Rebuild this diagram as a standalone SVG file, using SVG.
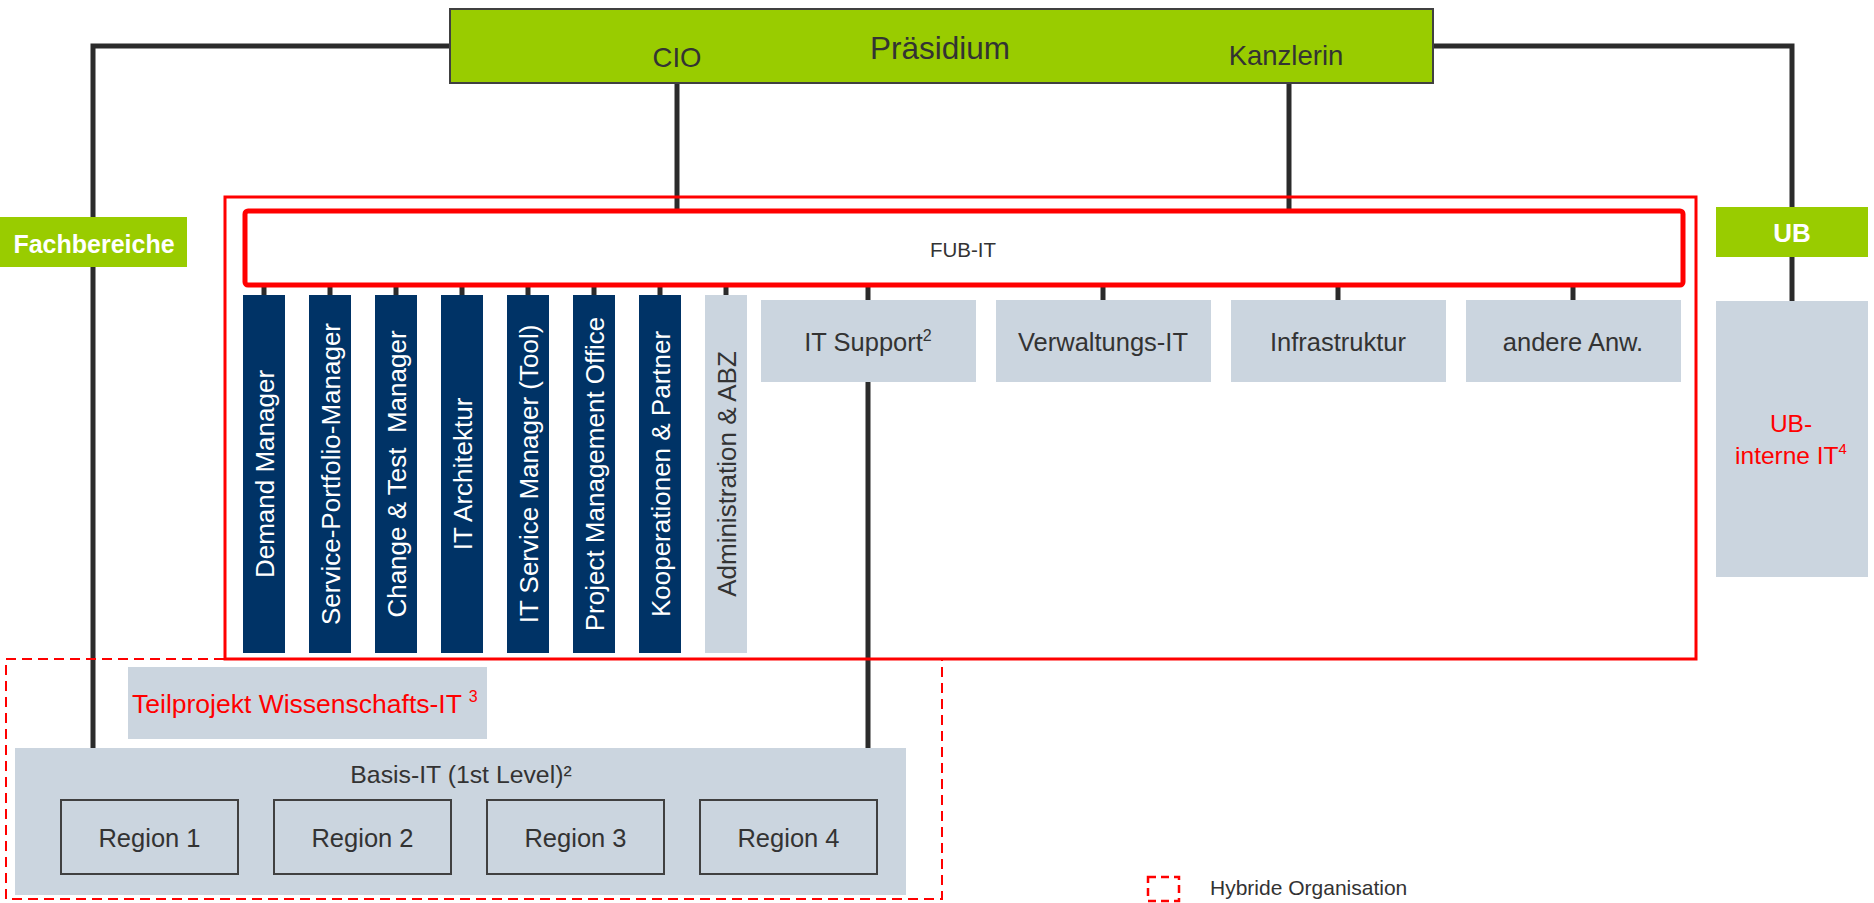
<svg xmlns="http://www.w3.org/2000/svg" width="1874" height="903" viewBox="0 0 1874 903">
  <style>
    text { font-family: "Liberation Sans", Arial, sans-serif; }
    .green { fill: #99cc00; }
    .gray { fill: #cbd5df; }
    .navy { fill: #003366; }
    .dark { fill: #333333; }
    .white { fill: #ffffff; }
    .red { fill: #ff0000; }
    .conn { stroke: #2b2b2b; stroke-width: 5; fill: none; }
    .stub { stroke: #2b2b2b; stroke-width: 5; fill: none; }
    .vt { font-size: 26px; text-anchor: middle; }
    .bt { font-size: 25.5px; text-anchor: middle; fill: #333333; }
  </style>

  <!-- connectors -->
  <g id="connectors">
    <polyline class="conn" points="450,46 93,46 93,217"/>
    <line class="conn" x1="93" y1="267" x2="93" y2="748"/>
    <polyline class="conn" points="1433,46 1792,46 1792,207"/>
    <line class="conn" x1="1792" y1="257" x2="1792" y2="301"/>
    <line class="conn" x1="677" y1="84" x2="677" y2="211"/>
    <line class="conn" x1="1289" y1="84" x2="1289" y2="211"/>
    <line class="stub" x1="264" y1="285" x2="264" y2="295"/>
    <line class="stub" x1="330" y1="285" x2="330" y2="295"/>
    <line class="stub" x1="396" y1="285" x2="396" y2="295"/>
    <line class="stub" x1="462" y1="285" x2="462" y2="295"/>
    <line class="stub" x1="528" y1="285" x2="528" y2="295"/>
    <line class="stub" x1="594" y1="285" x2="594" y2="295"/>
    <line class="stub" x1="660" y1="285" x2="660" y2="295"/>
    <line class="stub" x1="726" y1="285" x2="726" y2="295"/>
    <line class="stub" x1="868" y1="285" x2="868" y2="300"/>
    <line class="stub" x1="1103" y1="285" x2="1103" y2="300"/>
    <line class="stub" x1="1338" y1="285" x2="1338" y2="300"/>
    <line class="stub" x1="1573" y1="285" x2="1573" y2="300"/>
    <line class="conn" x1="868" y1="382" x2="868" y2="748"/>
  </g>

  <!-- Präsidium -->
  <g id="praesidium">
    <rect x="450" y="9" width="983" height="74" class="green" stroke="#404040" stroke-width="2"/>
    <text x="940" y="59" font-size="31.5" text-anchor="middle" class="dark">Präsidium</text>
    <text x="677" y="67" font-size="27.5" text-anchor="middle" class="dark">CIO</text>
    <text x="1286" y="65" font-size="27.5" text-anchor="middle" class="dark">Kanzlerin</text>
  </g>

  <!-- Fachbereiche -->
  <g id="fachbereiche">
    <rect x="0" y="217" width="187" height="50" class="green"/>
    <text x="94" y="253" font-size="25" font-weight="bold" text-anchor="middle" class="white">Fachbereiche</text>
  </g>

  <!-- UB -->
  <g id="ub">
    <rect x="1716" y="207" width="152" height="50" class="green"/>
    <text x="1792" y="242" font-size="26" font-weight="bold" text-anchor="middle" class="white">UB</text>
  </g>

  <g id="ub-interne-it">
    <rect x="1716" y="301" width="152" height="276" class="gray"/>
    <text x="1791" y="432" font-size="24.5" text-anchor="middle" class="red">UB-</text>
    <text x="1791" y="464" font-size="24.5" text-anchor="middle" class="red">interne IT<tspan font-size="15" dy="-10">4</tspan></text>
  </g>

  <!-- outer red frame -->
  <g id="fub-frame">
    <rect x="225" y="197" width="1471" height="462" fill="none" stroke="#ff0000" stroke-width="3"/>
  </g>

  <!-- FUB-IT -->
  <g id="fub-it">
    <rect x="245" y="211" width="1438" height="74" rx="3" fill="#ffffff" stroke="#ff0000" stroke-width="5"/>
    <text x="963" y="257" font-size="20.5" text-anchor="middle" class="dark">FUB-IT</text>
  </g>

  <!-- vertical columns -->
  <g id="demand-manager">
    <rect x="243" y="295" width="42" height="358" class="navy"/>
    <text class="vt white" transform="translate(273.5,474) rotate(-90)">Demand Manager</text>
  </g>
  <g id="service-portfolio-manager">
    <rect x="309" y="295" width="42" height="358" class="navy"/>
    <text class="vt white" transform="translate(339.5,474) rotate(-90)">Service-Portfolio-Manager</text>
  </g>
  <g id="change-test-manager">
    <rect x="375" y="295" width="42" height="358" class="navy"/>
    <text class="vt white" xml:space="preserve" transform="translate(405.5,474) rotate(-90)">Change &amp; Test  Manager</text>
  </g>
  <g id="it-architektur">
    <rect x="441" y="295" width="42" height="358" class="navy"/>
    <text class="vt white" transform="translate(471.5,474) rotate(-90)">IT Architektur</text>
  </g>
  <g id="it-service-manager">
    <rect x="507" y="295" width="42" height="358" class="navy"/>
    <text class="vt white" transform="translate(537.5,474) rotate(-90)">IT Service Manager (Tool)</text>
  </g>
  <g id="project-management-office">
    <rect x="573" y="295" width="42" height="358" class="navy"/>
    <text class="vt white" transform="translate(603.5,474) rotate(-90)">Project Management Office</text>
  </g>
  <g id="kooperationen-partner">
    <rect x="639" y="295" width="42" height="358" class="navy"/>
    <text class="vt white" transform="translate(669.5,474) rotate(-90)">Kooperationen &amp; Partner</text>
  </g>
  <g id="administration-abz">
    <rect x="705" y="295" width="42" height="358" class="gray"/>
    <text class="vt dark" transform="translate(735.5,474) rotate(-90)">Administration &amp; ABZ</text>
  </g>

  <!-- horizontal gray units -->
  <g id="it-support">
    <rect x="761" y="300" width="215" height="82" class="gray"/>
    <text x="868" y="351" class="bt">IT Support<tspan font-size="16" dy="-10">2</tspan></text>
  </g>
  <g id="verwaltungs-it">
    <rect x="996" y="300" width="215" height="82" class="gray"/>
    <text x="1103" y="351" class="bt">Verwaltungs-IT</text>
  </g>
  <g id="infrastruktur">
    <rect x="1231" y="300" width="215" height="82" class="gray"/>
    <text x="1338" y="351" class="bt">Infrastruktur</text>
  </g>
  <g id="andere-anw">
    <rect x="1466" y="300" width="215" height="82" class="gray"/>
    <text x="1573" y="351" class="bt">andere Anw.</text>
  </g>

  <!-- hybrid organisation -->
  <g id="hybride-bereich">
    <rect x="6" y="659" width="936" height="240" fill="none" stroke="#ff0000" stroke-width="2" stroke-dasharray="10 6"/>
  </g>

  <g id="teilprojekt">
    <rect x="128" y="667" width="359" height="72" class="gray"/>
    <text x="132" y="713" font-size="26.5" class="red">Teilprojekt Wissenschafts-IT <tspan font-size="16" dy="-11">3</tspan></text>
  </g>

  <g id="basis-it">
    <rect x="15" y="748" width="891" height="147" class="gray"/>
    <text x="461" y="783" font-size="24.8" text-anchor="middle" class="dark">Basis-IT (1st Level)²</text>
  </g>
  <g id="region-1">
    <rect x="61" y="800" width="177" height="74" fill="none" stroke="#404040" stroke-width="2"/>
    <text x="149.5" y="847" class="bt">Region 1</text>
  </g>
  <g id="region-2">
    <rect x="274" y="800" width="177" height="74" fill="none" stroke="#404040" stroke-width="2"/>
    <text x="362.5" y="847" class="bt">Region 2</text>
  </g>
  <g id="region-3">
    <rect x="487" y="800" width="177" height="74" fill="none" stroke="#404040" stroke-width="2"/>
    <text x="575.5" y="847" class="bt">Region 3</text>
  </g>
  <g id="region-4">
    <rect x="700" y="800" width="177" height="74" fill="none" stroke="#404040" stroke-width="2"/>
    <text x="788.5" y="847" class="bt">Region 4</text>
  </g>

  <!-- legend -->
  <g id="legend">
    <rect x="1148" y="877" width="31" height="24" fill="none" stroke="#ff0000" stroke-width="2.5" stroke-dasharray="8 5"/>
    <text x="1210" y="895" font-size="21" class="dark">Hybride Organisation</text>
  </g>
</svg>
